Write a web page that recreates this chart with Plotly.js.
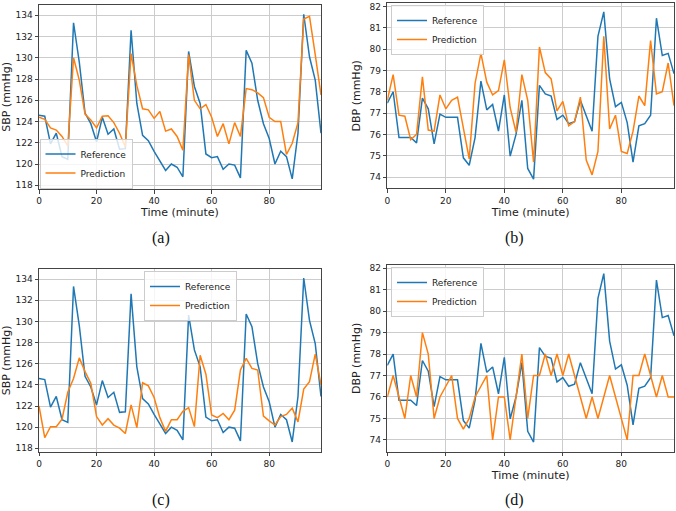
<!DOCTYPE html>
<html>
<head>
<meta charset="utf-8">
<script src="https://cdn.plot.ly/plotly-3.0.1.min.js"></script>
<style>html,body{margin:0;padding:0;background:#fff;}#chart{width:676px;height:511px;}</style>
</head>
<body>
<div id="chart"></div>
<script>
const time = [0,2,4,6,8,10,12,14,16,18,20,22,24,26,28,30,32,34,36,38,40,42,44,46,48,50,52,54,56,58,60,62,64,66,68,70,72,74,76,78,80,82,84,86,88,90,92,94,96,98];

const sbpReference = [124.6,124.5,121.9,122.9,120.7,120.45,133.3,129.6,124.8,123.8,122.1,124.4,122.8,123.3,121.4,121.45,132.6,125.7,122.7,122.2,121.2,120.3,119.4,120.0,119.7,118.8,130.6,127.3,125.7,120.95,120.6,120.7,119.5,120.0,119.9,118.7,130.7,129.5,126.0,123.8,122.4,120.0,121.2,120.7,118.6,122.9,134.1,130.1,127.9,122.9];
const sbpPredictionA = [124.4,124.2,123.4,123.2,122.6,121.7,130.0,127.9,124.7,124.15,123.4,124.5,124.55,123.9,122.9,121.6,130.4,127.4,125.2,125.1,124.3,124.95,123.1,123.3,122.6,121.3,130.3,126.0,125.2,125.6,124.4,122.6,123.8,121.9,123.9,122.6,127.1,127.0,126.7,126.25,124.4,124.0,124.0,120.9,121.95,123.9,133.65,133.9,130.3,126.5];
const sbpPredictionC = [122.0,119.0,120.05,120.05,120.75,123.3,124.6,126.55,125.25,124.15,121.0,120.2,120.8,120.2,119.9,119.4,122.1,119.95,124.2,123.9,122.8,120.9,119.6,120.7,120.7,121.5,121.85,120.05,126.8,125.0,121.15,120.9,121.3,120.7,121.6,125.4,126.5,125.55,125.4,121.05,120.6,120.2,121.0,121.2,121.8,120.5,123.6,124.3,126.9,124.0];

const dbpReference = [77.47,78.0,75.85,75.85,75.85,75.6,77.7,77.2,75.55,76.95,76.8,76.8,76.8,74.9,74.55,75.85,78.5,77.15,77.4,76.15,77.85,74.98,76.0,77.6,74.4,73.9,78.3,77.9,77.8,76.7,76.9,76.5,76.6,77.6,76.9,76.15,80.6,81.75,78.6,77.3,77.5,76.55,74.7,76.4,76.5,76.9,81.45,79.7,79.8,78.85];
const dbpPredictionB = [77.6,78.8,76.9,76.85,75.75,76.0,78.7,76.2,76.15,77.85,77.2,77.6,77.75,76.35,74.85,78.4,79.8,78.45,77.85,78.05,79.5,77.25,76.1,78.8,77.6,74.7,80.1,78.9,78.6,77.1,77.55,76.4,76.6,77.75,74.8,74.1,75.2,80.6,76.25,76.9,75.2,75.1,76.15,77.8,77.35,80.4,77.9,78.0,79.35,77.35];
const dbpPredictionD = [76,77,76,75,77,76,79,78,75,76,76.5,77,75,74.5,75,76,76.5,77,74,76,76,74,76,78,75,77,77,78,77,78,77,78,77,76,75,76,75,76,77,76,75,74,77,77,78,77,76,77,76,76];

const xTicks = [0,20,40,60,80];
const sbpTicks = [118,120,122,124,126,128,130,132,134];
const dbpTicks = [74,75,76,77,78,79,80,81,82];
const seriesNames = ['Reference','Prediction'];
const captions = ['(a)','(b)','(c)','(d)'];

const BLUE = '#1f77b4', ORANGE = '#ff7f0e';
const FONT = 'DejaVu Sans, sans-serif';

function tr(y, name, color, xa, ya, lg) {
  return {x: time, y: y, name: name, type: 'scatter', mode: 'lines',
    line: {color: color, width: 1.5}, xaxis: xa, yaxis: ya, legend: lg, hoverinfo: 'skip'};
}

const data = [
  tr(sbpReference, seriesNames[0], BLUE, 'x', 'y', 'legend'),
  tr(sbpPredictionA, seriesNames[1], ORANGE, 'x', 'y', 'legend'),
  tr(dbpReference, seriesNames[0], BLUE, 'x2', 'y2', 'legend2'),
  tr(dbpPredictionB, seriesNames[1], ORANGE, 'x2', 'y2', 'legend2'),
  tr(sbpReference, seriesNames[0], BLUE, 'x3', 'y3', 'legend3'),
  tr(sbpPredictionC, seriesNames[1], ORANGE, 'x3', 'y3', 'legend3'),
  tr(dbpReference, seriesNames[0], BLUE, 'x4', 'y4', 'legend4'),
  tr(dbpPredictionD, seriesNames[1], ORANGE, 'x4', 'y4', 'legend4')
];

const W = 676, H = 511;
const leftDom = [39/W, 321/W];
const rightDom = [387.3/W, 674/W];
const domTopA = [1-189/H, 1-4.7/H];
const domTopB = [1-188.3/H, 1-3.3/H];
const domBotC = [1-451.7/H, 1-269/H];
const domBotD = [1-451.7/H, 1-265/H];

function xax(dom, anchor, title) {
  const a = {domain: dom, anchor: anchor, range: [0, 98], tickvals: xTicks,
    showgrid: true, gridcolor: '#cccccc', gridwidth: 1, zeroline: false,
    showline: true, mirror: true, linecolor: '#444', linewidth: 1,
    ticks: 'outside', ticklen: 3.5, tickcolor: '#444', tickwidth: 1,
    tickfont: {family: FONT, size: 9, color: '#222'}, automargin: false};
  if (title) a.title = {text: title, font: {family: FONT, size: 11, color: '#222'}, standoff: 2};
  return a;
}
function yax(dom, anchor, range, ticks, title, standoff) {
  return {domain: dom, anchor: anchor, range: range, tickvals: ticks,
    showgrid: true, gridcolor: '#cccccc', gridwidth: 1, zeroline: false,
    showline: true, mirror: true, linecolor: '#444', linewidth: 1,
    ticks: 'outside', ticklen: 3.5, tickcolor: '#444', tickwidth: 1,
    tickfont: {family: FONT, size: 9, color: '#222'}, automargin: false,
    title: {text: title, font: {family: FONT, size: 11, color: '#222'}, standoff: standoff}};
}
function leg(x, y, xanchor, yanchor) {
  return {x: x, y: y, xref: 'paper', yref: 'paper', xanchor: xanchor, yanchor: yanchor,
    bgcolor: 'rgba(255,255,255,0.8)', bordercolor: '#cccccc', borderwidth: 1,
    font: {family: FONT, size: 9, color: '#222'}, itemwidth: 30, tracegroupgap: 0};
}

const capFont = {family: 'Liberation Serif, serif', size: 16, color: '#111'};
function cap(text, x, y) {
  return {text: text, x: x/W, y: 1-y/H, xref: 'paper', yref: 'paper',
    xanchor: 'center', yanchor: 'middle', showarrow: false, font: capFont};
}
const layout = {
  width: W, height: H, margin: {l: 0, r: 0, t: 0, b: 0},
  paper_bgcolor: '#fff', plot_bgcolor: '#fff', showlegend: true,
  xaxis: xax(leftDom, 'y', 'Time (minute)'),
  yaxis: yax(domTopA, 'x', [117.65, 135.0], sbpTicks, 'SBP (mmHg)', 4),
  xaxis2: xax(rightDom, 'y2', 'Time (minute)'),
  yaxis2: yax(domTopB, 'x2', [73.47, 82.15], dbpTicks, 'DBP (mmHg)', 6),
  xaxis3: xax(leftDom, 'y3', null),
  yaxis3: yax(domBotC, 'x3', [117.68, 134.95], sbpTicks, 'SBP (mmHg)', 4),
  xaxis4: xax(rightDom, 'y4', 'Time (minute)'),
  yaxis4: yax(domBotD, 'x4', [73.45, 82.15], dbpTicks, 'DBP (mmHg)', 6),
  legend: leg(39.5/W, 1-188.5/H, 'left', 'bottom'),
  legend2: leg(391/W, 1-5/H, 'left', 'top'),
  legend3: leg(144/W, 1-271/H, 'left', 'top'),
  legend4: leg(391/W, 1-267/H, 'left', 'top'),
  annotations: [
    cap(captions[0], 161, 238),
    cap(captions[1], 514, 238),
    cap(captions[2], 161, 500),
    cap(captions[3], 514, 500)
  ]
};

Plotly.newPlot('chart', data, layout, {displayModeBar: false, staticPlot: true});
</script>
</body>
</html>
